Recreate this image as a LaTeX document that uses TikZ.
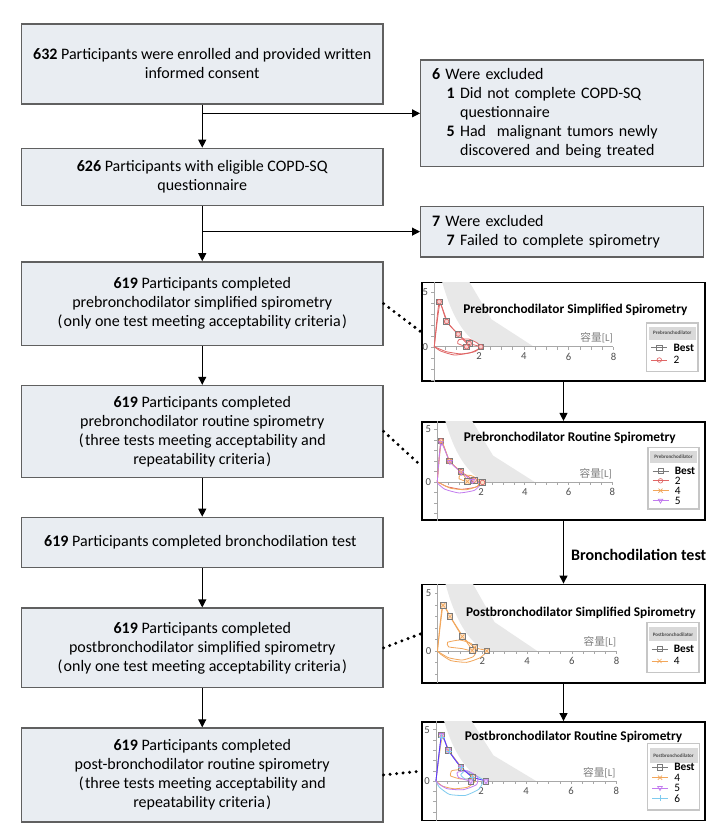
\documentclass[tikz,border=0pt]{standalone}
\usepackage{fontspec}
\setmainfont{Carlito}
\newfontfamily\cjkfont{Noto Sans CJK SC}
\usetikzlibrary{
	arrows.meta,
	positioning,
	calc,
	plotmarks
}

\definecolor{boxfill}{HTML}{E9EDF2}
\definecolor{boxline}{HTML}{606060}
\definecolor{bandgray}{HTML}{E8E8E8}
\definecolor{axisgray}{HTML}{A8A8A8}
\definecolor{tickgray}{HTML}{505050}
\definecolor{redtwo}{HTML}{E06666}
\definecolor{orangefour}{HTML}{F2A65A}
\definecolor{violetfive}{HTML}{C27BEF}
\definecolor{cyansix}{HTML}{7FCBEF}
\definecolor{bestgray}{HTML}{7A7A7A}

\begin{document}
\begin{tikzpicture}[
		x=0.75pt, y=-0.75pt,
		font=\fontsize{12}{14.25}\selectfont,
		box/.style={draw=boxline, fill=boxfill, line width=1pt, minimum width=271pt, align=center},
		exbox/.style={draw=boxline, fill=boxfill, line width=1pt, text width=195pt, inner xsep=8.5pt, align=left},
		plotbox/.style={draw=black, fill=white, line width=1.2pt, minimum width=212.6pt, minimum height=73.9pt, inner sep=0pt},
		arrow/.style={-{Triangle[length=6pt, width=6pt]}, line width=0.8pt},
		dotline/.style={line width=2.5pt, line cap=round, dash pattern=on 0pt off 4.9pt},
		plottitle/.style={font=\fontsize{10}{12}\selectfont\bfseries, inner sep=0pt},
		ticklab/.style={font=\fontsize{8}{9}\selectfont, text=tickgray, inner sep=1pt},
		legtext/.style={font=\fontsize{8.5}{9}\selectfont, inner sep=0pt},
		legtitle/.style={font=\fontsize{3.8}{4}\selectfont\bfseries, inner sep=0pt, text=black!70},
		legframe/.style={draw=gray!45, line width=0.9pt, fill=white},
		leghead/.style={fill=gray!30},
		curve/.style={line width=0.6pt, smooth, tension=0.3},
		bestmark/.style={only marks, mark=square*, mark size=2.1pt, mark options={draw=bestgray, fill=#1!30, line width=0.5pt}},
		bestlegmark/.style={only marks, mark=square, mark size=2pt, mark options={draw=bestgray, line width=0.5pt}},
		circmark/.style={only marks, mark=o, mark size=1.7pt, mark options={draw=redtwo, line width=0.5pt}},
		crossmark/.style={only marks, mark=x, mark size=2.2pt, mark options={draw=orangefour, line width=0.5pt}},
		trimark/.style={only marks, mark=triangle, mark size=2pt, mark options={draw=violetfive, rotate=180, line width=0.5pt}},
		plusmark/.style={only marks, mark=+, mark size=2.2pt, mark options={draw=cyansix, line width=0.5pt}},
		pics/spiroaxes/.style={code={
			\fill[bandgray] (0.3,6.3) .. controls (0.7,3.2) and (1.2,1.2) .. (2.1,0) -- (4.45,0) -- (2.55,2.5) -- (1.45,6.3) -- cycle;
			\draw[axisgray, line width=0.5pt] (0,7) -- (0,-4);
			\draw[axisgray, line width=0.5pt] (0,0) -- (8,0);
			\foreach \tk in {0.5,1,...,8} \draw[axisgray, line width=0.4pt] (\tk,0) -- +(0,-2.2pt);
			\foreach \tk in {-3,...,5} \draw[axisgray, line width=0.4pt] (0,\tk) -- +(-2.2pt,0);
			\foreach \tk in {2,4,6,8} \node[ticklab, anchor=north, yshift=-3.5pt] at (\tk,0) {\tk};
			\node[ticklab, anchor=east, xshift=-3.5pt] at (0,5) {5};
			\node[ticklab, anchor=east, xshift=-3.5pt] at (0,0) {0};
			\node[ticklab, text=gray] at (7.25,0.8) {{\cjkfont 容量}[L]};
		}},
		pics/legentry/.style n args={3}{code={
			\draw[#2, line width=0.6pt] (-8,0) -- (8,0);
			\path plot[#3] coordinates {(0,0)};
			\node[legtext, anchor=west] at (14,0) {#1};
		}}
	]
	
	\fill[white] (0,0) rectangle (720,832);
	\useasboundingbox (0,0) rectangle (720,832);
	
	% flow on the left
	\node[box, minimum height=60pt] (enrol) at (202.25,64) {
		\textbf{632} Participants were enrolled and provided written\\
		informed consent
	};
	
	\node[box, minimum height=42.75pt, below=32.25pt of enrol] (eligible) {
		\textbf{626} Participants with eligible COPD-SQ\\
		questionnaire
	};
	
	\node[box, minimum height=62.6pt, below=41.4pt of eligible] (presimple) {
		\textbf{619} Participants completed\\
		prebronchodilator simplified spirometry\\
		(\kern1pt only one test meeting acceptability criteria\kern1pt)
	};
	
	\node[box, minimum height=68.8pt, below=29.1pt of presimple] (preroutine) {
		\textbf{619} Participants completed\\
		prebronchodilator routine spirometry\\
		(\kern1pt three tests meeting acceptability and\\
		repeatability criteria\kern1pt)
	};
	
	\node[box, minimum height=37.5pt, below=29.1pt of preroutine] (bdtest) {
		\textbf{619} Participants completed bronchodilation test
	};
	
	\node[box, minimum height=59.6pt, below=29.6pt of bdtest] (postsimple) {
		\textbf{619} Participants completed\\
		postbronchodilator simplified spirometry\\
		(\kern1pt only one test meeting acceptability criteria\kern1pt)
	};
	
	\node[box, minimum height=70.5pt, below=29.25pt of postsimple] (postroutine) {
		\textbf{619} Participants completed\\
		post-bronchodilator routine spirometry\\
		(\kern1pt three tests meeting acceptability and\\
		repeatability criteria\kern1pt)
	};
	
	% exclusions
	\node[exbox, minimum height=80pt] (exclude1) at (562,113.35) {
		\textbf{6} Were excluded\\
		\hspace*{11pt}\textbf{1} Did not complete COPD-SQ\\
		\hspace*{11pt}\phantom{\textbf{1}\ }questionnaire\\
		\hspace*{11pt}\textbf{5} Had\ \ malignant tumors newly\\
		\hspace*{11pt}\phantom{\textbf{5}\ }discovered and being treated
	};
	
	\node[exbox, minimum height=38pt, below=28.7pt of exclude1] (exclude2) {
		\textbf{7} Were excluded\\
		\hspace*{11pt}\textbf{7} Failed to complete spirometry
	};
	
	% spirometry panels
	\node[plotbox] (spiro1) at (563.5,331.85) {};
	\node[plotbox, below=29.25pt of spiro1] (spiro2) {};
	\node[plotbox, below=46.9pt of spiro2] (spiro3) {};
	\node[plotbox, below=28pt of spiro3] (spiro4) {};
	
	% panel 1
	\begin{scope}
		\clip ([shift={(0.6pt,-0.6pt)}]spiro1.north west) rectangle ([shift={(-0.6pt,0.6pt)}]spiro1.south east);
		\begin{scope}[shift={($(spiro1.north west)+(13.3,65)$)}, x=16.8pt, y=8.25pt]
			\pic {spiroaxes};
			\node[plottitle] (title1) at (6.3,3.36) {Prebronchodilator Simplified Spirometry};
			\draw[curve, redtwo] plot coordinates {(0,0) (0.22,4.1) (0.55,2.3) (1.07,1.15) (1.56,0.3) (2.08,0) (1.8,-0.45) (1.2,-0.65) (0.55,-0.45) (0.12,-0.1) (0,0)};
			\draw[curve, redtwo] plot coordinates {(0,0) (0.25,3.9) (0.6,2.2) (1.1,1.05) (1.5,0.2) (1.44,0) (1.05,0.3) (1.1,0.65) (1.55,0.7) (1.95,0.3) (2.0,-0.15) (1.6,-0.55) (0.9,-0.75) (0.3,-0.4) (0,0)};
			\path plot[bestmark=redtwo] coordinates {(0.22,4.1) (0.55,2.3) (1.07,1.15) (1.56,0.3) (1.44,0) (2.08,0)};
			\path plot[circmark] coordinates {(0.22,4.1) (0.55,2.3) (1.07,1.15) (1.56,0.3) (1.44,0) (2.08,0)};
		\end{scope}
	\end{scope}
	\draw[legframe] (646.7,323) rectangle (698,371.7);
	\fill[leghead] (648.5,326.5) rectangle (696.2,340);
	\node[legtitle] (leg1) at (672.35,333.2) {Prebronchodilator};
	\pic at (659.3,347.7) {legentry={\textbf{Best}}{bestgray}{bestlegmark}};
	\pic at (659.3,360) {legentry={2}{redtwo}{circmark}};
	
	% panel 2
	\begin{scope}
		\clip ([shift={(0.6pt,-0.6pt)}]spiro2.north west) rectangle ([shift={(-0.6pt,0.6pt)}]spiro2.south east);
		\begin{scope}[shift={($(spiro2.north west)+(16.3,61)$)}, x=16.4pt, y=7.9pt]
			\pic {spiroaxes};
			\node[plottitle] (title2) at (6.06,4.2) {Prebronchodilator Routine Spirometry};
			\draw[curve, redtwo] plot coordinates {(0,0) (0.17,3.9) (0.55,2.0) (1.08,0.98) (1.69,0.17) (2.07,-0.05) (1.75,-0.5) (1.1,-0.7) (0.45,-0.45) (0.1,-0.1) (0,0)};
			\draw[curve, orangefour] plot coordinates {(0,0) (0.19,3.8) (0.57,1.95) (1.1,0.95) (1.38,0.04) (1.0,0.3) (1.05,0.65) (1.55,0.6) (1.9,0.2) (1.85,-0.4) (1.3,-0.75) (0.6,-0.6) (0.15,-0.15) (0,0)};
			\draw[curve, violetfive] plot coordinates {(0,0) (0.17,3.7) (0.58,1.9) (1.1,0.9) (1.6,0.1) (2.0,-0.15) (1.7,-0.8) (1.0,-1.05) (0.35,-0.7) (0.05,-0.2) (0,0)};
			\path plot[bestmark=orangefour] coordinates {(0.17,3.9) (0.55,2.0) (1.08,0.98) (1.38,0.04) (1.69,0.17) (2.07,-0.05)};
			\path plot[circmark] coordinates {(0.17,3.9) (0.55,2.0) (1.08,0.98) (1.69,0.17) (2.07,-0.05)};
			\path plot[crossmark] coordinates {(0.19,3.8) (0.57,1.95) (1.1,0.95) (1.38,0.04)};
			\path plot[trimark] coordinates {(0.17,3.7) (0.58,1.9) (1.1,0.9) (1.6,0.1)};
		\end{scope}
	\end{scope}
	\draw[legframe] (648,447.7) rectangle (699,509);
	\fill[leghead] (649.8,450.5) rectangle (697.2,463);
	\node[legtitle] (leg2) at (673.5,456.7) {Prebronchodilator};
	\pic at (660.5,471) {legentry={\textbf{Best}}{bestgray}{bestlegmark}};
	\pic at (660.5,480.8) {legentry={2}{redtwo}{circmark}};
	\pic at (660.5,490.7) {legentry={4}{orangefour}{crossmark}};
	\pic at (660.5,500.5) {legentry={5}{violetfive}{trimark}};
	
	% panel 3
	\begin{scope}
		\clip ([shift={(0.6pt,-0.6pt)}]spiro3.north west) rectangle ([shift={(-0.6pt,0.6pt)}]spiro3.south east);
		\begin{scope}[shift={($(spiro3.north west)+(16.5,67.3)$)}, x=16.8pt, y=8.6pt]
			\pic {spiroaxes};
			\node[plottitle] (title3) at (6.4,3.33) {Postbronchodilator Simplified Spirometry};
			\draw[curve, orangefour] plot coordinates {(0,0) (0.25,3.97) (0.56,3.0) (1.11,1.25) (1.66,0.3) (2.2,0) (1.9,-0.6) (1.3,-1.0) (0.6,-0.85) (0.15,-0.3) (0,0)};
			\draw[curve, orangefour] plot coordinates {(0,0) (0.22,3.9) (0.6,2.9) (1.15,1.2) (1.55,0.03) (1.1,0.2) (0.5,0.35) (0.45,0.75) (1.0,0.95) (1.5,0.65) (1.75,0.1) (1.6,-0.5) (1.1,-0.8) (0.5,-0.6) (0.1,-0.15) (0,0)};
			\path plot[bestmark=orangefour] coordinates {(0.25,3.97) (0.56,3.0) (1.11,1.25) (1.66,0.3) (1.55,0.03) (2.2,0)};
			\path plot[crossmark] coordinates {(0.25,3.97) (0.56,3.0) (1.11,1.25) (1.66,0.3) (1.55,0.03) (2.2,0)};
		\end{scope}
	\end{scope}
	\draw[legframe] (647,622.7) rectangle (699,672.7);
	\fill[leghead] (648.8,627) rectangle (697.2,641);
	\node[legtitle] (leg3) at (673,634.5) {Postbronchodilator};
	\pic at (659.5,649) {legentry={\textbf{Best}}{bestgray}{bestlegmark}};
	\pic at (659.5,661) {legentry={4}{orangefour}{crossmark}};
	
	% panel 4
	\begin{scope}
		\clip ([shift={(0.6pt,-0.6pt)}]spiro4.north west) rectangle ([shift={(-0.6pt,0.6pt)}]spiro4.south east);
		\begin{scope}[shift={($(spiro4.north west)+(15,60)$)}, x=16.9pt, y=7.7pt]
			\pic {spiroaxes};
			\node[plottitle] (title4) at (6.1,4.33) {Postbronchodilator Routine Spirometry};
			\draw[curve, orangefour] plot coordinates {(0,0) (0.27,4.2) (0.6,2.9) (1.15,1.3) (1.6,0.3) (1.1,0.2) (0.65,0.5) (0.7,1.0) (1.1,1.1) (1.6,0.6) (1.75,0) (1.4,-0.6) (0.8,-0.75) (0.3,-0.5) (0,0)};
			\draw[curve, cyansix] plot coordinates {(0,0) (0.25,4.3) (0.58,2.9) (1.12,1.3) (1.6,0.35) (1.3,0.2) (1.1,0.6) (1.3,1.0) (1.6,0.7) (2.1,0.1) (1.9,-0.8) (1.3,-1.4) (0.6,-1.3) (0.15,-0.6) (0,0)};
			\draw[curve, violetfive] plot coordinates {(0,0) (0.25,4.5) (0.55,3.0) (1.1,1.36) (1.63,0.39) (1.54,0) (1.0,0.35) (0.95,0.85) (1.4,1.0) (1.85,0.4) (1.8,-0.35) (1.2,-0.85) (0.5,-0.75) (0.1,-0.25) (0,0)};
			\draw[curve, blue!55!violetfive] plot coordinates {(0,0) (0.25,4.5) (0.55,3.0) (1.1,1.36) (1.63,0.39) (2.22,0)};
			\path plot[bestmark=violetfive] coordinates {(0.25,4.5) (0.55,3.0) (1.1,1.36) (1.63,0.39) (1.54,0) (2.22,0)};
			\path plot[crossmark] coordinates {(0.25,4.5) (0.55,3.0) (1.1,1.36) (1.63,0.39)};
			\path plot[trimark] coordinates {(0.25,4.5) (0.55,3.0) (1.1,1.36) (1.54,0) (2.22,0)};
			\path plot[plusmark] coordinates {(0.25,4.3) (0.58,2.9) (1.12,1.3) (1.6,0.35)};
		\end{scope}
	\end{scope}
	\draw[legframe] (647.7,743.3) rectangle (699.3,810);
	\fill[leghead] (649.5,748) rectangle (697.5,763);
	\node[legtitle] (leg4) at (673.5,755.7) {Postbronchodilator};
	\pic at (660,767.3) {legentry={\textbf{Best}}{bestgray}{bestlegmark}};
	\pic at (660,777.7) {legentry={4}{orangefour}{crossmark}};
	\pic at (660,787.9) {legentry={5}{violetfive}{trimark}};
	\pic at (660,798.3) {legentry={6}{cyansix}{plusmark}};
	
	% connectors
	\draw[arrow] (enrol) -- (eligible);
	\draw[arrow] (enrol.south |- exclude1.west) -- (exclude1.west);
	\draw[arrow] (eligible) -- (presimple);
	\draw[arrow] (eligible.south |- exclude2.west) -- (exclude2.west);
	\draw[arrow] (presimple) -- (preroutine);
	\draw[arrow] (preroutine) -- (bdtest);
	\draw[arrow] (bdtest) -- (postsimple);
	\draw[arrow] (postsimple) -- (postroutine);
	
	\draw[arrow] (spiro1) -- (spiro2);
	\draw[arrow] (spiro2) -- node[anchor=west, xshift=2pt, yshift=-2pt, font=\fontsize{12}{14}\selectfont\bfseries] (bdlabel) {Bronchodilation test} (spiro3);
	\draw[arrow] (spiro3) -- (spiro4);
	
	\draw[dotline] (presimple.east) -- (spiro1.west);
	\draw[dotline] (preroutine.east) -- ([yshift=4pt]spiro2.west);
	\draw[dotline] (postsimple.east) -- (spiro3.west);
	\draw[dotline] (postroutine.east) -- (spiro4.west);
	
\end{tikzpicture}
\end{document}
